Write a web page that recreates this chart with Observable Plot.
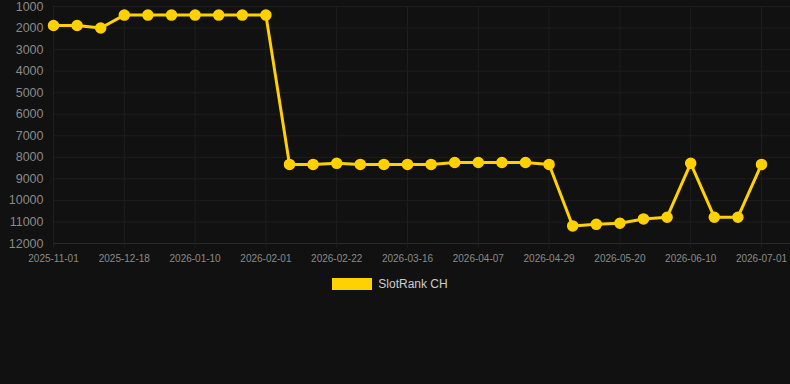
<!DOCTYPE html>
<html>
<head>
<meta charset="utf-8">
<script src="https://cdn.jsdelivr.net/npm/d3@7"></script>
<script src="https://cdn.jsdelivr.net/npm/@observablehq/plot@0.6"></script>
<style>
  html, body { margin: 0; padding: 0; background: #111111; }
  body { width: 790px; height: 384px; overflow: hidden; font-family: Arial, "Liberation Sans", sans-serif; }
  #legend { display: flex; justify-content: center; align-items: center; gap: 6px; margin-top: 7px; margin-left: -10px; color: #cccccc; font-size: 12px; }
  #legend .sw { width: 40px; height: 12px; background: #FFD100; }
</style>
</head>
<body>
<div id="chart"></div>
<div id="legend"><span class="sw"></span><span>SlotRank CH</span></div>
<script>
const dates = [
  "2025-11-01","2025-11-17","2025-12-02","2025-12-18","2025-12-25","2026-01-02",
  "2026-01-10","2026-01-17","2026-01-25","2026-02-01","2026-02-08","2026-02-15",
  "2026-02-22","2026-03-01","2026-03-08","2026-03-16","2026-03-23","2026-03-30",
  "2026-04-07","2026-04-14","2026-04-21","2026-04-29","2026-05-06","2026-05-13",
  "2026-05-20","2026-05-27","2026-06-03","2026-06-10","2026-06-17","2026-06-24",
  "2026-07-01"
];
const ranks = [
  1880, 1880, 2000, 1400, 1400, 1400,
  1400, 1400, 1400, 1400, 8330, 8330,
  8280, 8330, 8330, 8330, 8330, 8240,
  8240, 8240, 8240, 8330, 11185, 11110,
  11060, 10860, 10780, 8280, 10780, 10780,
  8330
];
const yTicks = [1000,2000,3000,4000,5000,6000,7000,8000,9000,10000,11000,12000];
const xTickIdx = dates.map((d, i) => i).filter(i => i % 3 === 0);

const data = dates.map((d, i) => ({i, date: d, rank: ranks[i]}));
const gridColor = "#1e1e1e";
const baseColor = "#2a2a2a";
const lineColor = "#FFD100";

const chart = Plot.plot({
  width: 790,
  height: 270,
  marginLeft: 53,
  marginRight: 0,
  marginTop: 6,
  marginBottom: 27,
  style: { background: "#111111", color: "#8a8a8a", fontFamily: "Arial, 'Liberation Sans', sans-serif" },
  x: { type: "linear", domain: [0, dates.length - 1], range: [53, 761] },
  y: { domain: [1000, 12000], reverse: true },
  marks: [
    Plot.ruleY(yTicks.slice(0, -1), { stroke: gridColor, strokeWidth: 1 }),
    Plot.ruleX(xTickIdx, { stroke: gridColor, strokeWidth: 1, y1: 1000, y2: 12000 }),
    Plot.ruleY([12000], { stroke: baseColor, strokeWidth: 1 }),
    Plot.axisY({ ticks: yTicks, tickSize: 0, tickPadding: 10, fontSize: 12.5, label: null, tickFormat: d => String(d) }),
    Plot.axisX({ ticks: xTickIdx, tickSize: 5, tickPadding: 6, fontSize: 10, label: null, stroke: gridColor, tickFormat: i => dates[i] }),
    Plot.line(data, { x: "i", y: "rank", stroke: lineColor, strokeWidth: 3, curve: "linear" }),
    Plot.dot(data, { x: "i", y: "rank", r: 5, fill: lineColor, stroke: lineColor })
  ]
});
document.getElementById("chart").appendChild(chart);
</script>
</body>
</html>
